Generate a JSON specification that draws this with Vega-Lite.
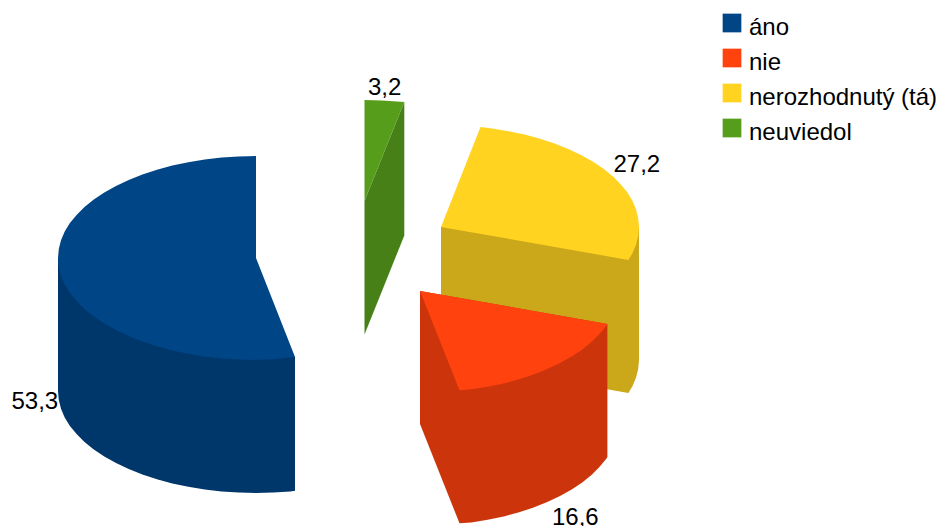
{
"$schema":"https://vega.github.io/schema/vega-lite/v6.json",
"width":940,"height":526,"padding":0,
"autosize":{"type":"none"},
"background":"white",
"view":{"stroke":null},
"config":{"style":{"guide-label":{"dy":5}}},
"datasets":{
"shapes":[
{"s":"neuviedol","f":"side","i":0,"x":364.5,"y":201},{"s":"neuviedol","f":"side","i":1,"x":404.3,"y":102},{"s":"neuviedol","f":"side","i":2,"x":404.3,"y":235.5},{"s":"neuviedol","f":"side","i":3,"x":364.5,"y":334.5},
{"s":"neuviedol","f":"top","i":0,"x":364.5,"y":201},{"s":"neuviedol","f":"top","i":1,"x":364.5,"y":100},{"s":"neuviedol","f":"top","i":2,"x":381.8,"y":100.4},{"s":"neuviedol","f":"top","i":3,"x":404.3,"y":102},
{"s":"áno","f":"side","i":0,"x":58,"y":258},{"s":"áno","f":"side","i":1,"x":58,"y":391},{"s":"áno","f":"side","i":2,"x":58.8,"y":399.9},{"s":"áno","f":"side","i":3,"x":61,"y":408.7},{"s":"áno","f":"side","i":4,"x":64.7,"y":417.4},{"s":"áno","f":"side","i":5,"x":69.9,"y":425.9},{"s":"áno","f":"side","i":6,"x":76.6,"y":434.1},{"s":"áno","f":"side","i":7,"x":84.5,"y":442},{"s":"áno","f":"side","i":8,"x":93.8,"y":449.5},{"s":"áno","f":"side","i":9,"x":104.3,"y":456.6},{"s":"áno","f":"side","i":10,"x":116,"y":463.1},{"s":"áno","f":"side","i":11,"x":128.7,"y":469.1},{"s":"áno","f":"side","i":12,"x":142.4,"y":474.6},{"s":"áno","f":"side","i":13,"x":157,"y":479.3},{"s":"áno","f":"side","i":14,"x":172.3,"y":483.4},{"s":"áno","f":"side","i":15,"x":188.3,"y":486.8},{"s":"áno","f":"side","i":16,"x":204.8,"y":489.5},{"s":"áno","f":"side","i":17,"x":221.6,"y":491.5},{"s":"áno","f":"side","i":18,"x":238.7,"y":492.6},{"s":"áno","f":"side","i":19,"x":256,"y":493},{"s":"áno","f":"side","i":20,"x":273.3,"y":492.6},{"s":"áno","f":"side","i":21,"x":290.4,"y":491.5},{"s":"áno","f":"side","i":22,"x":295,"y":490.8},{"s":"áno","f":"side","i":23,"x":295,"y":357},
{"s":"áno","f":"top","i":0,"x":256,"y":258},{"s":"áno","f":"top","i":1,"x":256,"y":156},{"s":"áno","f":"top","i":2,"x":238.7,"y":156.4},{"s":"áno","f":"top","i":3,"x":221.6,"y":157.5},{"s":"áno","f":"top","i":4,"x":204.8,"y":159.5},{"s":"áno","f":"top","i":5,"x":188.3,"y":162.2},{"s":"áno","f":"top","i":6,"x":172.3,"y":165.6},{"s":"áno","f":"top","i":7,"x":157,"y":169.7},{"s":"áno","f":"top","i":8,"x":142.4,"y":174.4},{"s":"áno","f":"top","i":9,"x":128.7,"y":179.9},{"s":"áno","f":"top","i":10,"x":116,"y":185.9},{"s":"áno","f":"top","i":11,"x":104.3,"y":192.4},{"s":"áno","f":"top","i":12,"x":93.8,"y":199.5},{"s":"áno","f":"top","i":13,"x":84.5,"y":207},{"s":"áno","f":"top","i":14,"x":76.6,"y":214.9},{"s":"áno","f":"top","i":15,"x":69.9,"y":223.1},{"s":"áno","f":"top","i":16,"x":64.7,"y":231.6},{"s":"áno","f":"top","i":17,"x":61,"y":240.3},{"s":"áno","f":"top","i":18,"x":58.8,"y":249.1},{"s":"áno","f":"top","i":19,"x":58,"y":258},{"s":"áno","f":"top","i":20,"x":58.8,"y":266.9},{"s":"áno","f":"top","i":21,"x":61,"y":275.7},{"s":"áno","f":"top","i":22,"x":64.7,"y":284.4},{"s":"áno","f":"top","i":23,"x":69.9,"y":292.9},{"s":"áno","f":"top","i":24,"x":76.6,"y":301.1},{"s":"áno","f":"top","i":25,"x":84.5,"y":309},{"s":"áno","f":"top","i":26,"x":93.8,"y":316.5},{"s":"áno","f":"top","i":27,"x":104.3,"y":323.6},{"s":"áno","f":"top","i":28,"x":116,"y":330.1},{"s":"áno","f":"top","i":29,"x":128.7,"y":336.1},{"s":"áno","f":"top","i":30,"x":142.4,"y":341.6},{"s":"áno","f":"top","i":31,"x":157,"y":346.3},{"s":"áno","f":"top","i":32,"x":172.3,"y":350.4},{"s":"áno","f":"top","i":33,"x":188.3,"y":353.8},{"s":"áno","f":"top","i":34,"x":204.8,"y":356.5},{"s":"áno","f":"top","i":35,"x":221.6,"y":358.5},{"s":"áno","f":"top","i":36,"x":238.7,"y":359.6},{"s":"áno","f":"top","i":37,"x":256,"y":360},{"s":"áno","f":"top","i":38,"x":273.3,"y":359.3},{"s":"áno","f":"top","i":39,"x":290.4,"y":357.6},{"s":"áno","f":"top","i":40,"x":295,"y":357},
{"s":"nerozhodnutý (tá)","f":"side","i":0,"x":441,"y":227},{"s":"nerozhodnutý (tá)","f":"side","i":1,"x":639,"y":227},{"s":"nerozhodnutý (tá)","f":"side","i":2,"x":639,"y":360},{"s":"nerozhodnutý (tá)","f":"side","i":3,"x":638.2,"y":368.9},{"s":"nerozhodnutý (tá)","f":"side","i":4,"x":636,"y":377.7},{"s":"nerozhodnutý (tá)","f":"side","i":5,"x":632.3,"y":386.4},{"s":"nerozhodnutý (tá)","f":"side","i":6,"x":628.4,"y":393},{"s":"nerozhodnutý (tá)","f":"side","i":7,"x":441,"y":360},
{"s":"nerozhodnutý (tá)","f":"top","i":0,"x":441,"y":227},{"s":"nerozhodnutý (tá)","f":"top","i":1,"x":480.5,"y":127.1},{"s":"nerozhodnutý (tá)","f":"top","i":2,"x":492.2,"y":128.5},{"s":"nerozhodnutý (tá)","f":"top","i":3,"x":508.7,"y":131.2},{"s":"nerozhodnutý (tá)","f":"top","i":4,"x":524.7,"y":134.6},{"s":"nerozhodnutý (tá)","f":"top","i":5,"x":540,"y":138.7},{"s":"nerozhodnutý (tá)","f":"top","i":6,"x":554.6,"y":143.4},{"s":"nerozhodnutý (tá)","f":"top","i":7,"x":568.3,"y":148.9},{"s":"nerozhodnutý (tá)","f":"top","i":8,"x":581,"y":154.9},{"s":"nerozhodnutý (tá)","f":"top","i":9,"x":592.7,"y":161.4},{"s":"nerozhodnutý (tá)","f":"top","i":10,"x":603.2,"y":168.5},{"s":"nerozhodnutý (tá)","f":"top","i":11,"x":612.5,"y":176},{"s":"nerozhodnutý (tá)","f":"top","i":12,"x":620.4,"y":183.9},{"s":"nerozhodnutý (tá)","f":"top","i":13,"x":627.1,"y":192.1},{"s":"nerozhodnutý (tá)","f":"top","i":14,"x":632.3,"y":200.6},{"s":"nerozhodnutý (tá)","f":"top","i":15,"x":636,"y":209.3},{"s":"nerozhodnutý (tá)","f":"top","i":16,"x":638.2,"y":218.1},{"s":"nerozhodnutý (tá)","f":"top","i":17,"x":639,"y":227},{"s":"nerozhodnutý (tá)","f":"top","i":18,"x":638.2,"y":235.9},{"s":"nerozhodnutý (tá)","f":"top","i":19,"x":636,"y":244.7},{"s":"nerozhodnutý (tá)","f":"top","i":20,"x":632.3,"y":253.4},{"s":"nerozhodnutý (tá)","f":"top","i":21,"x":628.4,"y":259.9},
{"s":"nie","f":"side","i":0,"x":420,"y":291},{"s":"nie","f":"side","i":1,"x":607.4,"y":323.9},{"s":"nie","f":"side","i":2,"x":607.4,"y":456.9},{"s":"nie","f":"side","i":3,"x":606.1,"y":458.9},{"s":"nie","f":"side","i":4,"x":599.4,"y":467.1},{"s":"nie","f":"side","i":5,"x":591.5,"y":475},{"s":"nie","f":"side","i":6,"x":582.2,"y":482.5},{"s":"nie","f":"side","i":7,"x":571.7,"y":489.6},{"s":"nie","f":"side","i":8,"x":560,"y":496.1},{"s":"nie","f":"side","i":9,"x":547.3,"y":502.1},{"s":"nie","f":"side","i":10,"x":533.6,"y":507.6},{"s":"nie","f":"side","i":11,"x":519,"y":512.3},{"s":"nie","f":"side","i":12,"x":503.7,"y":516.4},{"s":"nie","f":"side","i":13,"x":487.7,"y":519.8},{"s":"nie","f":"side","i":14,"x":471.2,"y":522.5},{"s":"nie","f":"side","i":15,"x":459.5,"y":523.3},{"s":"nie","f":"side","i":16,"x":420,"y":424},
{"s":"nie","f":"top","i":0,"x":420,"y":291},{"s":"nie","f":"top","i":1,"x":607.4,"y":323.9},{"s":"nie","f":"top","i":2,"x":606.1,"y":325.9},{"s":"nie","f":"top","i":3,"x":599.4,"y":334.1},{"s":"nie","f":"top","i":4,"x":591.5,"y":342},{"s":"nie","f":"top","i":5,"x":582.2,"y":349.5},{"s":"nie","f":"top","i":6,"x":571.7,"y":356.6},{"s":"nie","f":"top","i":7,"x":560,"y":363.1},{"s":"nie","f":"top","i":8,"x":547.3,"y":369.1},{"s":"nie","f":"top","i":9,"x":533.6,"y":374.6},{"s":"nie","f":"top","i":10,"x":519,"y":379.3},{"s":"nie","f":"top","i":11,"x":503.7,"y":383.4},{"s":"nie","f":"top","i":12,"x":487.7,"y":386.8},{"s":"nie","f":"top","i":13,"x":471.2,"y":389.2},{"s":"nie","f":"top","i":14,"x":459.5,"y":390.3}
],
"labels":[
{"label":"53,3","x":11.5,"y":409},
{"label":"16,6","x":552,"y":525},
{"label":"27,2","x":613.5,"y":172},
{"label":"3,2","x":368,"y":95}
]
},
"layer":[
{"data":{"name":"shapes"},"transform":[{"filter":"datum.f === 'side'"}],
"mark":{"type":"line","filled":true,"strokeWidth":0,"interpolate":"linear-closed"},
"encoding":{
"x":{"field":"x","type":"quantitative","scale":{"domain":[0,940]},"axis":null},
"y":{"field":"y","type":"quantitative","scale":{"domain":[0,526],"reverse":true},"axis":null},
"order":{"field":"i","type":"quantitative"},
"color":{"field":"s","type":"nominal","legend":null,"scale":{"domain":["áno","nie","nerozhodnutý (tá)","neuviedol"],"range":["#00376b","#cc350b","#cba81a","#468016"]}}
}},
{"data":{"name":"shapes"},"transform":[{"filter":"datum.f === 'top'"}],
"mark":{"type":"line","filled":true,"strokeWidth":0,"interpolate":"linear-closed"},
"encoding":{
"x":{"field":"x","type":"quantitative","scale":{"domain":[0,940]},"axis":null},
"y":{"field":"y","type":"quantitative","scale":{"domain":[0,526],"reverse":true},"axis":null},
"order":{"field":"i","type":"quantitative"},
"color":{"field":"s","type":"nominal","scale":{"domain":["áno","nie","nerozhodnutý (tá)","neuviedol"],"range":["#004586","#ff420e","#ffd320","#579d1c"]},
"legend":{"title":null,"orient":"none","legendX":720,"legendY":11,"symbolType":"square","symbolSize":350,"symbolStrokeWidth":0,"symbolOpacity":1,"labelFontSize":24,"labelFont":"Liberation Sans","labelColor":"#000000","labelLimit":300,"labelOffset":5,"rowPadding":6,"padding":0}}
}},
{"data":{"name":"labels"},
"mark":{"type":"text","align":"left","baseline":"alphabetic","font":"Liberation Sans","fontSize":24,"color":"#000000"},
"encoding":{
"x":{"field":"x","type":"quantitative","scale":{"domain":[0,940]},"axis":null},
"y":{"field":"y","type":"quantitative","scale":{"domain":[0,526],"reverse":true},"axis":null},
"text":{"field":"label","type":"nominal"}
}}
],
"resolve":{"scale":{"color":"independent"}}
}
